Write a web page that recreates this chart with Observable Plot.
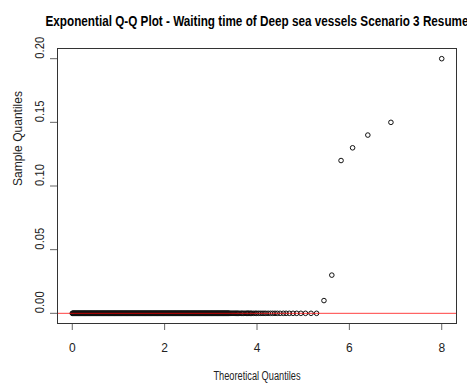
<!DOCTYPE html>
<html><head><meta charset="utf-8">
<script src="https://cdn.jsdelivr.net/npm/d3@7"></script>
<script src="https://cdn.jsdelivr.net/npm/@observablehq/plot@0.6"></script>
<style>body{margin:0;background:#fff;overflow:hidden}#chart{width:467px;height:385px;overflow:hidden}</style>
</head><body><div id="chart"></div>
<script>
const title = "Exponential Q-Q Plot - Waiting time of Deep sea vessels Scenario 3 Resume";
const xLabel = "Theoretical Quantiles";
const yLabel = "Sample Quantiles";
const xTicks = [0, 2, 4, 6, 8];
const yTicks = [0, 0.05, 0.10, 0.15, 0.20];
const zeroTheoretical = [
  0.00,0.01,0.02,0.03,0.04,0.05,0.06,0.07,0.08,0.09,0.10,0.11,0.12,0.13,0.14,0.15,0.16,0.17,0.18,0.19,
  0.20,0.21,0.22,0.23,0.24,0.25,0.26,0.27,0.28,0.29,0.30,0.31,0.32,0.33,0.34,0.35,0.36,0.37,0.38,0.39,
  0.40,0.41,0.42,0.43,0.44,0.45,0.46,0.47,0.48,0.49,0.50,0.51,0.52,0.53,0.54,0.55,0.56,0.57,0.58,0.59,
  0.60,0.61,0.62,0.63,0.64,0.65,0.66,0.67,0.68,0.69,0.70,0.71,0.72,0.73,0.74,0.75,0.76,0.77,0.78,0.79,
  0.80,0.81,0.82,0.83,0.84,0.85,0.86,0.87,0.88,0.89,0.90,0.91,0.92,0.93,0.94,0.95,0.96,0.97,0.98,0.99,
  1.00,1.01,1.02,1.03,1.04,1.05,1.06,1.07,1.08,1.09,1.10,1.11,1.12,1.13,1.14,1.15,1.16,1.17,1.18,1.19,
  1.20,1.21,1.22,1.23,1.24,1.25,1.26,1.27,1.28,1.29,1.30,1.31,1.32,1.33,1.34,1.35,1.36,1.37,1.38,1.39,
  1.40,1.41,1.42,1.43,1.44,1.45,1.46,1.47,1.48,1.49,1.50,1.51,1.52,1.53,1.54,1.55,1.56,1.57,1.58,1.59,
  1.60,1.61,1.62,1.63,1.64,1.65,1.66,1.67,1.68,1.69,1.70,1.71,1.72,1.73,1.74,1.75,1.76,1.77,1.78,1.79,
  1.80,1.81,1.82,1.83,1.84,1.85,1.86,1.87,1.88,1.89,1.90,1.91,1.92,1.93,1.94,1.95,1.96,1.97,1.98,1.99,
  2.00,2.01,2.02,2.03,2.04,2.05,2.06,2.07,2.08,2.09,2.10,2.11,2.12,2.13,2.14,2.15,2.16,2.17,2.18,2.19,
  2.20,2.21,2.22,2.23,2.24,2.25,2.26,2.27,2.28,2.29,2.30,2.31,2.32,2.33,2.34,2.35,2.36,2.37,2.38,2.39,
  2.40,2.41,2.42,2.43,2.44,2.45,2.46,2.47,2.48,2.49,2.50,2.51,2.52,2.53,2.54,2.55,2.56,2.57,2.58,2.59,
  2.60,2.61,2.62,2.63,2.64,2.65,2.66,2.67,2.68,2.69,2.70,2.71,2.72,2.73,2.74,2.75,2.76,2.77,2.78,2.79,
  2.80,2.81,2.82,2.83,2.84,2.85,2.86,2.87,2.88,2.89,2.90,2.91,2.92,2.93,2.94,2.95,2.96,2.97,2.98,2.99,
  3.00,3.01,3.02,3.03,3.04,3.05,3.06,3.07,3.08,3.09,3.10,3.11,3.12,3.13,3.14,3.15,3.16,3.17,3.18,3.19,
  3.20,3.21,3.22,3.23,3.24,3.25,3.26,3.27,3.28,3.29,3.30,3.31,3.32,3.33,3.34,3.35,3.36,3.37,3.38,3.39,
  3.40,3.42,3.44,3.46,3.48,3.50,3.52,3.54,3.56,3.58,3.60,3.63,3.66,3.68,3.71,3.74,3.77,3.79,3.81,3.83,
  3.86,3.88,3.92,3.96,3.99,4.03,4.07,4.11,4.15,4.19,4.24,4.29,4.34,4.39,4.44,4.50,4.57,4.63,4.70,4.78,
  4.86,4.95,5.05,5.17,5.29
];
const tailTheoretical = [5.45, 5.62, 5.82, 6.07, 6.40, 6.90, 8.00];
const tailSample = [0.010, 0.030, 0.120, 0.130, 0.140, 0.150, 0.200];

const points = [
  ...zeroTheoretical.map(x => ({x, y: 0})),
  ...tailTheoretical.map((x, i) => ({x, y: tailSample[i]}))
];

const chart = Plot.plot({
  width: 467,
  height: 385,
  marginTop: 48,
  marginBottom: 62,
  marginLeft: 57,
  marginRight: 11,
  x: {domain: [-0.32, 8.32]},
  y: {domain: [-0.008, 0.208]},
  style: {fontFamily: "'Liberation Sans', Arial, sans-serif", fontSize: "12px", color: "#222", background: "#fff"},
  marks: [
    Plot.axisX({ticks: xTicks, tickSize: 7, tickFormat: () => "", label: null, stroke: "#666"}),
    Plot.axisY({ticks: yTicks, tickSize: 7, tickFormat: () => "", label: null, stroke: "#666"}),
    Plot.text(xTicks, {x: d => d, frameAnchor: "bottom", dy: 24.5, text: d => String(d), lineAnchor: "middle", fill: "#222"}),
    Plot.text(yTicks, {y: d => d, frameAnchor: "left", dx: -17.5, rotate: -90, text: d => d.toFixed(2), lineAnchor: "middle", fill: "#222"}),
    Plot.text([xLabel], {frameAnchor: "bottom", dy: 53, text: d => d, lineAnchor: "middle", fill: "#222"}),
    Plot.text([yLabel], {frameAnchor: "left", dx: -39, rotate: -90, text: d => d, lineAnchor: "middle", fill: "#222"}),
    Plot.text([title], {frameAnchor: "top", dy: -26.5, text: d => d, fontWeight: "bold", fontSize: 14, lineAnchor: "middle", fill: "#000"}),
    Plot.dot(points, {x: "x", y: "y", r: 2.3, stroke: "#111", strokeWidth: 1, fill: "none"}),
    Plot.ruleY([0], {stroke: "red", strokeOpacity: 0.75}),
    Plot.frame({stroke: "#333"})
  ]
});

const lengths = {[title]: 423, [xLabel]: 87, [yLabel]: 95};
yTicks.forEach(d => lengths[d.toFixed(2)] = 22);
chart.querySelectorAll("text").forEach(t => {
  const L = lengths[t.textContent];
  if (L) { t.setAttribute("textLength", L); t.setAttribute("lengthAdjust", "spacingAndGlyphs"); }
});
document.getElementById("chart").appendChild(chart);
</script>
</body></html>
